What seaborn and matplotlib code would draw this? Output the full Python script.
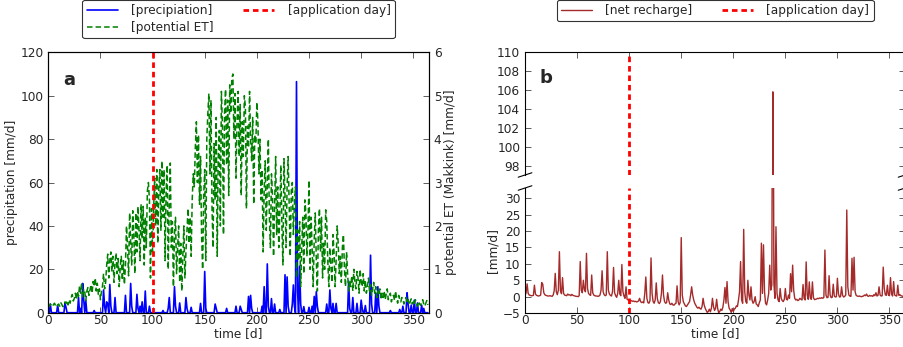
import numpy as np
import matplotlib
matplotlib.use("Agg")
import matplotlib.pyplot as plt
import seaborn as sns

sns.set_style("ticks")
plt.rcParams["font.family"] = ["DejaVu Sans"]
plt.rcParams["font.size"] = 8.7

# ---------------- data ----------------
n_days = 365
application_day = 100

# precipitation events (day, mm/d); all other days are 0
precip_events = [
    (2, 4.0), (9, 3.5), (16, 4.3), (17, 2.5), (29, 7.0), (31, 2.0), (33, 13.5), (34, 6.0),
    (36, 5.5), (44, 1.0), (53, 10.5), (54, 3.0), (56, 5.0), (57, 4.0), (59, 13.0), (60, 3.0),
    (64, 7.0), (74, 8.0), (79, 13.5), (80, 3.0), (85, 8.5), (86, 2.0), (88, 3.0), (90, 5.0),
    (93, 10.0), (97, 3.0), (110, 1.0), (115, 2.0), (116, 7.0), (121, 12.0), (122, 3.0),
    (126, 4.5), (132, 7.0), (133, 2.0), (137, 2.5), (146, 4.3), (150, 19.0), (151, 2.0),
    (160, 4.0), (161, 2.0), (171, 2.0), (180, 3.0), (184, 3.0), (185, 1.5), (192, 7.5),
    (194, 8.0), (195, 2.0), (205, 3.0), (207, 12.0), (210, 22.5), (211, 3.0), (214, 6.5),
    (217, 4.0), (222, 1.5), (227, 17.5), (229, 16.5), (230, 3.0), (234, 4.0), (235, 12.8),
    (236, 3.0), (238, 106.5), (239, 10.0), (241, 21.5), (242, 4.0), (245, 2.8), (250, 2.5),
    (253, 3.0), (255, 7.5), (257, 9.7), (258, 3.0), (267, 4.0), (270, 10.5), (271, 2.0),
    (273, 4.3), (276, 4.3), (288, 14.6), (289, 2.0), (292, 7.0), (296, 4.3), (300, 5.8),
    (301, 2.0), (304, 3.3), (309, 26.5), (310, 4.0), (314, 9.0), (316, 12.0), (317, 3.0),
    (328, 1.0), (337, 1.5), (340, 3.0), (344, 9.2), (345, 4.0), (348, 3.5), (351, 5.8),
    (354, 4.5), (358, 3.5), (360, 2.0),
]

# potential ET (Makkink) [mm/d], one value per day
et_mm = [
    0.18, 0.15, 0.20, 0.17, 0.14, 0.19, 0.22, 0.16, 0.13, 0.18,
    0.20, 0.15, 0.23, 0.19, 0.14, 0.17, 0.25, 0.21, 0.28, 0.18,
    0.30, 0.22, 0.35, 0.42, 0.27, 0.33, 0.45, 0.30, 0.50, 0.38,
    0.62, 0.45, 0.70, 0.35, 0.55, 0.48, 0.28, 0.50, 0.58, 0.40,
    0.52, 0.65, 0.45, 0.72, 0.60, 0.80, 0.50, 0.68, 0.42, 0.55,
    0.30, 0.48, 0.62, 0.90, 0.55, 0.70, 1.10, 1.35, 0.80, 1.20,
    1.40, 0.95, 1.30, 0.70, 1.15, 1.38, 0.90, 1.25, 0.60, 1.05,
    1.30, 0.75, 1.20, 0.65, 1.10, 2.00, 1.50, 0.85, 2.30, 1.60,
    1.10, 2.35, 1.80, 0.90, 2.30, 1.40, 2.45, 1.90, 1.20, 2.50,
    1.70, 2.45, 1.10, 2.20, 1.50, 2.80, 3.00, 2.60, 0.80, 2.40,
    1.40, 2.40, 3.10, 2.00, 3.30, 1.60, 2.90, 3.30, 1.90, 3.50,
    2.20, 3.30, 1.20, 2.80, 3.40, 1.00, 2.50, 3.45, 1.50, 2.10,
    0.60, 1.80, 2.20, 0.90, 1.50, 2.00, 0.70, 1.60, 0.50, 1.30,
    2.00, 0.80, 1.40, 1.90, 2.40, 1.60, 2.20, 1.30, 2.60, 3.20,
    2.90, 3.80, 4.40, 3.00, 4.10, 2.50, 3.60, 1.80, 1.00, 2.70,
    3.30, 1.20, 4.00, 4.60, 5.05, 3.20, 4.90, 2.40, 1.50, 3.90,
    2.60, 4.50, 1.30, 3.60, 4.20, 2.00, 5.10, 4.30, 1.80, 4.60,
    5.15, 3.40, 4.90, 2.70, 5.25, 4.60, 5.40, 5.50, 4.00, 5.05,
    3.10, 4.40, 5.10, 3.60, 4.80, 2.70, 4.40, 3.60, 5.00, 4.75,
    2.40, 4.30, 3.80, 5.10, 4.00, 3.50, 4.50, 2.50, 4.10, 3.90,
    4.85, 4.40, 3.20, 4.00, 2.60, 3.30, 1.40, 2.80, 3.50, 1.90,
    3.00, 4.00, 2.20, 1.50, 3.20, 2.70, 1.30, 2.50, 3.60, 1.80,
    2.90, 1.50, 2.30, 3.40, 2.00, 1.10, 3.55, 2.70, 1.50, 2.90,
    3.60, 2.40, 1.30, 2.80, 3.00, 1.80, 2.50, 2.90, 0.80, 1.90,
    1.20, 2.10, 0.60, 1.50, 2.20, 0.90, 2.60, 2.30, 1.30, 1.90,
    3.05, 1.00, 2.20, 1.50, 0.60, 1.70, 2.30, 1.20, 0.50, 1.90,
    2.40, 1.40, 2.20, 0.80, 1.60, 1.00, 2.37, 2.10, 1.20, 0.60,
    1.50, 1.10, 0.70, 1.80, 1.40, 0.60, 1.20, 2.00, 1.60, 0.90,
    1.30, 0.70, 1.50, 1.80, 1.00, 0.60, 1.40, 0.90, 0.50, 0.75,
    0.60, 0.85, 0.50, 1.00, 0.70, 0.55, 0.95, 0.80, 0.45, 1.00,
    0.70, 0.60, 0.90, 0.50, 0.75, 0.45, 0.60, 0.80, 0.50, 0.65,
    0.40, 0.55, 0.70, 0.45, 0.60, 0.35, 0.50, 0.40, 0.55, 0.30,
    0.45, 0.35, 0.50, 0.30, 0.42, 0.55, 0.30, 0.38, 0.45, 0.25,
    0.35, 0.40, 0.28, 0.50, 0.32, 0.22, 0.40, 0.30, 0.25, 0.35,
    0.30, 0.20, 0.28, 0.35, 0.22, 0.30, 0.18, 0.25, 0.32, 0.20,
    0.25, 0.18, 0.30, 0.22, 0.15, 0.26, 0.20, 0.17, 0.24, 0.30,
    0.20, 0.15, 0.22, 0.28, 0.18,
]

# net recharge [mm/d], one value per day
recharge_mm = [
    0.3, 1.2, 3.9, 1.0, 0.5, 0.4, 0.3, 0.3, 0.4, 3.5,
    0.8, 0.4, 0.3, 0.2, 0.3, 0.5, 4.3, 3.8, 1.2, 0.6,
    0.4, 0.3, 0.2, 0.2, 0.3, 0.2, 0.1, 0.5, 1.8, 7.1,
    1.5, 0.6, 2.0, 13.7, 1.8, 0.9, 5.8, 1.0, 0.5, 0.4,
    0.3, 0.8, 0.5, 0.6, 0.3, 0.7, 0.4, 0.3, 0.2, 0.1,
    0.1, 0.0, 0.3, 10.7, 2.0, 1.2, 5.0, 2.2, 1.5, 13.2,
    2.5, 1.0, 0.6, 0.4, 6.6, 1.2, 0.5, 0.3, 0.2, 0.2,
    0.1, 0.2, 0.5, 2.0, 7.9, 1.5, 0.6, 0.3, 0.5, 13.7,
    2.0, 0.8, 0.4, 0.2, 1.5, 8.9, 1.2, 0.3, -0.2, 1.0,
    5.0, 0.8, 0.3, 9.8, 1.5, 0.2, -0.5, 3.0, -0.8, -1.0,
    -1.2, -1.3, -1.2, -1.4, -1.3, -1.5, -1.4, -1.6, -1.5, -1.3,
    -0.5, -1.5, -1.8, -1.6, -1.9, 1.0, 6.0, -0.5, -1.8, -2.0,
    -1.2, 11.8, 1.0, -1.5, -2.0, -1.0, 4.2, -0.5, -1.8, -2.1,
    -1.5, 1.0, 6.6, 0.5, -1.5, -2.0, -1.8, 1.2, -1.0, -2.2,
    -2.4, -2.0, -2.5, -2.6, -2.2, -2.0, 3.3, -1.5, -2.5, -1.8,
    18.0, 0.5, -1.5, -2.2, -2.8, -3.0, -2.5, -2.0, -1.5, 0.5,
    3.0, 0.5, -1.0, -2.0, -2.6, -3.2, -3.5, -3.2, -3.6, -3.8,
    -3.0, -0.5, -2.5, -3.5, -4.2, -4.8, -4.5, -3.8, -4.6, -3.5,
    -0.5, -3.0, -4.2, -3.5, -0.8, -3.6, -4.9, -4.5, -3.8, -4.2,
    -3.2, -1.0, 2.8, -2.0, 4.6, -1.5, -3.5, -4.0, -4.8, -3.6,
    -4.5, -3.8, -3.5, -2.8, -3.0, -1.0, 1.5, 10.7, -1.0, -2.0,
    20.5, 1.5, -1.5, -2.0, 5.0, 0.5, -1.0, 3.0, -1.0, -2.0,
    -1.5, 0.0, -2.2, -2.5, -3.0, -1.8, -1.0, 16.3, 1.0, 15.8,
    1.5, -2.0, -2.5, -1.0, 1.0, 9.6, 2.0, 3.5, 105.8, 4.0,
    -0.5, 21.3, 1.0, -1.0, -1.5, 2.5, -0.5, -1.2, -1.5, -0.8,
    2.5, -0.8, -1.0, 0.5, -0.5, 7.0, 1.5, 9.6, 2.0, -0.5,
    -1.0, -0.8, -1.2, -1.0, -0.5, -0.8, -1.0, 3.7, -0.5, -1.0,
    10.6, 0.5, -0.8, 4.5, -0.5, -0.8, 4.5, -0.3, -0.9, -0.8,
    -0.7, -0.5, -0.6, -0.4, -0.5, -0.3, -0.5, -0.2, 14.2, 0.5,
    -0.3, -0.2, 6.4, 0.5, -0.3, -0.2, 3.8, 0.2, -0.1, 0.0,
    5.6, 0.8, -0.1, 0.0, 3.0, 0.4, -0.1, 0.1, 0.5, 26.4,
    3.0, 0.5, 0.2, 0.1, 11.7, 2.0, 12.0, 1.5, 0.4, 0.2,
    0.1, 0.2, 0.1, 0.0, 0.1, 0.2, 0.5, 0.3, 0.8, 0.2,
    0.1, 0.4, 0.2, 0.3, 0.1, 0.6, 0.3, 1.2, 0.2, 0.4,
    3.0, 0.5, 0.2, 0.3, 9.0, 2.5, 0.6, 0.4, 3.5, 0.5,
    0.3, 5.8, 0.8, 0.2, 4.6, 0.5, 0.3, 0.2, 3.5, 0.4,
    0.6, 0.3, 0.2, 0.1, 0.2,
]

days = np.arange(n_days)
precip = np.zeros(n_days)
for d, v in precip_events:
    precip[d] = v

# ---------------- styling helpers ----------------
RED = "#ff0000"
BLUE = "#0000ff"
GREEN = "#008000"
BROWN = "#a52a2a"
red_ls = (0, (2.0, 1.4))
green_ls = (0, (3.6, 2.0))


def style_ticks(ax, **kw):
    ax.tick_params(direction="in", length=4, width=0.6, color="#444444",
                   labelsize=8.7, **kw)
    for s in ax.spines.values():
        s.set_linewidth(0.8)
        s.set_color("black")


fig = plt.figure(figsize=(9.04, 3.47), dpi=100)

# ---------------- panel a ----------------
axA = fig.add_axes([0.0534, 0.0988, 0.4211, 0.7504])
axE = axA.twinx()

sns.lineplot(x=days, y=precip, ax=axA, color=BLUE, lw=1.2, errorbar=None,
             label="[precipiation]", legend=False)
sns.lineplot(x=days, y=et_mm, ax=axE, color=GREEN, lw=1.1, linestyle=green_ls,
             errorbar=None, label="[potential ET]", legend=False)
app_a = axE.axvline(application_day, color=RED, lw=2, linestyle=red_ls,
                    label="[application day]")

axA.set_xlim(0, 365)
axA.set_ylim(0, 120)
axA.set_yticks(np.arange(0, 121, 20))
axA.set_xticks(np.arange(0, 351, 50))
axE.set_ylim(0, 6)
axE.set_yticks(np.arange(0, 7, 1))
axA.set_xlabel("time [d]", labelpad=0)
axA.set_ylabel("precipitation [mm/d]", labelpad=2)
axE.set_ylabel("potential ET (Makkink) [mm/d]", labelpad=1.5)
style_ticks(axA, top=True)
axA.tick_params(axis="y", right=False)
style_ticks(axE)
axA.tick_params(axis="x", pad=1)
axA.text(0.056, 0.894, "a", transform=axA.transAxes, fontsize=13,
         fontweight="bold", ha="center", va="center")

hA = [axA.get_lines()[0], axE.get_lines()[0], app_a]
legA = axE.legend(hA, [h.get_label() for h in hA], ncol=2, loc="lower center",
                  bbox_to_anchor=(0.5, 1.03), fontsize=8.7, frameon=True,
                  handlelength=2.6, handletextpad=1.1, columnspacing=2.4,
                  borderpad=0.35, labelspacing=0.35, fancybox=True)
legA.get_frame().set_edgecolor("black")
legA.get_frame().set_linewidth(0.8)

# ---------------- panel b (broken axis) ----------------
axU = fig.add_axes([0.5808, 0.4957, 0.4204, 0.3553])
axL = fig.add_axes([0.5808, 0.0977, 0.4204, 0.3605], sharex=axU)

for ax in (axU, axL):
    sns.lineplot(x=days, y=recharge_mm, ax=ax, color=BROWN, lw=1.0,
                 errorbar=None, label="[net recharge]", legend=False)
    ax.axvline(application_day, color=RED, lw=2, linestyle=red_ls,
               label="[application day]")

axU.set_ylim(97.1, 110)
axU.set_yticks(np.arange(98, 111, 2))
axL.set_ylim(-5, 33.1)
axL.set_yticks(np.arange(-5, 31, 5))
axL.set_xlim(0, 365)
axL.set_xticks(np.arange(0, 351, 50))

axU.spines["bottom"].set_visible(False)
axL.spines["top"].set_visible(False)
style_ticks(axU, top=True, bottom=False, right=True, labelbottom=False)
style_ticks(axL, top=False, bottom=True, right=True)
axL.tick_params(axis="x", pad=1)
axU.set_xlabel("")
axU.set_ylabel("")
axL.set_xlabel("time [d]", labelpad=0)
axL.set_ylabel("[mm/d]", labelpad=2)

# break marks
d = 0.018
kw = dict(color="black", clip_on=False, lw=0.8)
axU.plot((-d, d), (-d, d), transform=axU.transAxes, **kw)
axU.plot((1 - d, 1 + d), (-d, d), transform=axU.transAxes, **kw)
axL.plot((-d, d), (1 - d, 1 + d), transform=axL.transAxes, **kw)
axL.plot((1 - d, 1 + d), (1 - d, 1 + d), transform=axL.transAxes, **kw)

axU.text(0.055, 0.783, "b", transform=axU.transAxes, fontsize=13,
         fontweight="bold", ha="center", va="center")

hB = [axU.get_lines()[0], axU.get_lines()[1]]
legB = axU.legend(hB, [h.get_label() for h in hB], ncol=2, loc="lower center",
                  bbox_to_anchor=(0.5, 1.2), fontsize=8.7, frameon=True,
                  handlelength=2.6, handletextpad=1.1, columnspacing=2.4,
                  borderpad=0.35, labelspacing=0.35, fancybox=True)
legB.get_frame().set_edgecolor("black")
legB.get_frame().set_linewidth(0.8)

fig.savefig("out.png", dpi=100)
